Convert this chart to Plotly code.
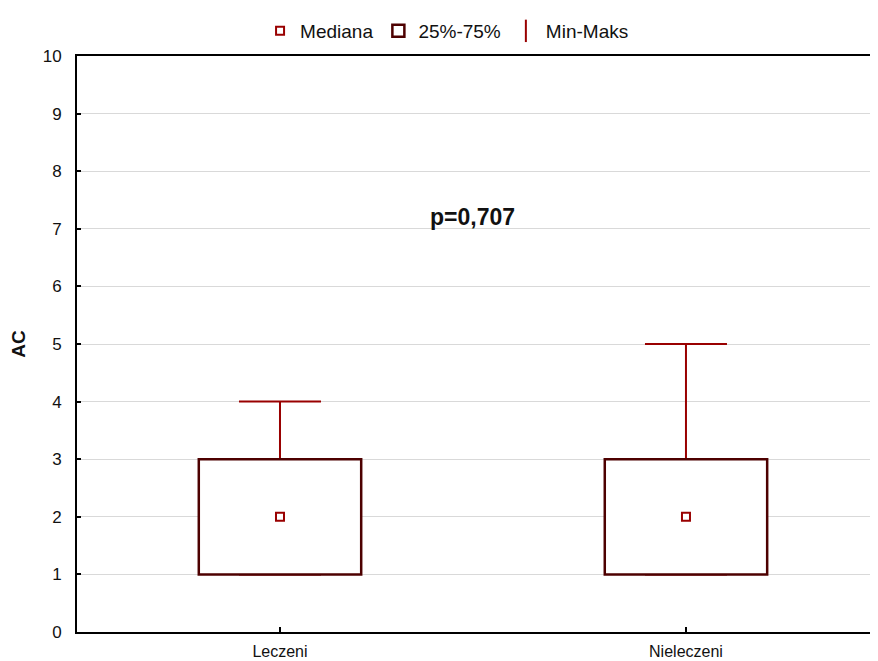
import plotly.graph_objects as go

categories = ["Leczeni", "Nieleczeni"]
medians = [2, 2]
q1 = [1, 1]
q3 = [3, 3]
mins = [1, 1]
maxs = [4, 5]
p_text = "p=0,707"

x_pos = list(range(len(categories)))
BOX = "#4d0000"
RED = "#990000"
FONT = "Liberation Sans, Arial, sans-serif"

fig = go.Figure()

# Median markers (overlay axes, above boxes)
fig.add_trace(go.Scatter(
    x=x_pos, y=medians, mode="markers", name="Mediana",
    marker=dict(symbol="square-open", size=8, color=RED, line=dict(width=2, color=RED)),
    yaxis="y2",
))
# Boxes 25%-75%
fig.add_trace(go.Bar(
    x=x_pos, y=[b - a for a, b in zip(q1, q3)], base=q1, width=0.4,
    name="25%-75%",
    marker=dict(color="white", line=dict(color=BOX, width=2.5)),
    yaxis="y2",
))
# Whiskers Min-Max on base axes (drawn beneath boxes)
fig.add_trace(go.Scatter(
    x=x_pos, y=mins, mode="markers", showlegend=False, name="Min-Maks",
    marker=dict(size=1, color="rgba(0,0,0,0)"),
    error_y=dict(type="data", symmetric=False,
                 array=[b - a for a, b in zip(mins, maxs)],
                 arrayminus=[0] * len(mins),
                 color=RED, thickness=2, width=41),
))
# Legend entry for Min-Maks
fig.add_trace(go.Scatter(
    x=[None], y=[None], mode="markers", name="Min-Maks",
    marker=dict(symbol="line-ns-open", size=18, color=RED, line=dict(width=2, color=RED)),
))

fig.add_annotation(x=0.473, y=7.2, xref="x", yref="y", text="<b>" + p_text + "</b>",
                   showarrow=False, font=dict(size=23, color="#111", family=FONT))

fig.update_layout(
    width=870, height=653,
    margin=dict(l=69, r=0, t=48, b=29),
    paper_bgcolor="white", plot_bgcolor="white",
    font=dict(family=FONT, size=17, color="#111"),
    showlegend=True,
    legend=dict(orientation="h", x=0.462, xanchor="center", y=1.0434, yanchor="middle",
                font=dict(size=19), bgcolor="rgba(0,0,0,0)", itemsizing="trace",
                traceorder="normal", itemwidth=30),
    barmode="overlay",
    xaxis=dict(range=[-0.5, 1.473], tickmode="array", tickvals=x_pos, ticktext=categories,
               showgrid=False, zeroline=False, showline=True, mirror=True,
               linecolor="black", linewidth=2, ticks="inside", ticklen=5, tickcolor="black",
               tickwidth=2, ticklabelstandoff=4, tickfont=dict(size=16), automargin=False),
    yaxis=dict(range=[0, 10], dtick=1, showgrid=True, gridcolor="#d9d9d9", gridwidth=1,
               zeroline=False, showline=True, linecolor="black", linewidth=2,
               ticks="inside", ticklen=4, tickcolor="black", tickwidth=1.5,
               ticklabelstandoff=10, tickfont=dict(size=17), automargin=False,
               title=dict(text="<b>AC</b>", font=dict(size=19), standoff=14)),
    yaxis2=dict(range=[0, 10], overlaying="y", showgrid=False, zeroline=False,
                showticklabels=False, showline=False, ticks=""),
)

fig.write_html("out.html")
